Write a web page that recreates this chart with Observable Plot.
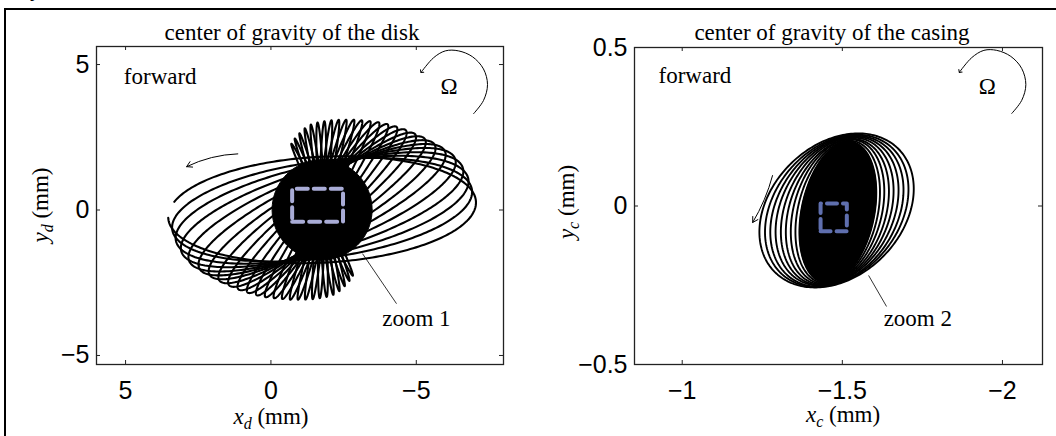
<!DOCTYPE html>
<html>
<head>
<meta charset="utf-8">
<script src="https://cdn.jsdelivr.net/npm/d3@7"></script>
<script src="https://cdn.jsdelivr.net/npm/@observablehq/plot@0.6"></script>
<style>
  html, body { margin: 0; padding: 0; background: #fff; }
  #fig { position: relative; width: 1056px; height: 436px; overflow: hidden; background: #fff; }
  #border { position: absolute; left: 4px; top: 8px; width: 1100px; height: 500px;
            border-top: 2.5px solid #000; border-left: 2.5px solid #000; }
  .panel { position: absolute; top: 0; }
  .serif { position: absolute; font-family: "Liberation Serif", "DejaVu Serif", serif; font-size: 23px;
           color: #000; white-space: nowrap; line-height: 1; }
  .serif sub { font-size: 16px; vertical-align: -5px; line-height: 0; }
</style>
</head>
<body>
<div id="fig">
  <div id="border"></div>
  <div class="serif" style="left:30px; top:-23px;">y</div>
  <div id="left" class="panel" style="left:0px;"></div>
  <div id="right" class="panel" style="left:528px;"></div>

  <div class="serif" style="left:292px; top:21px; transform:translateX(-50%);">center of gravity of the disk</div>
  <div class="serif" style="left:832px; top:21px; transform:translateX(-50%);">center of gravity of the casing</div>

  <div class="serif" style="left:271px; top:405px; transform:translateX(-50%);"><i>x<sub>d</sub></i> (mm)</div>
  <div class="serif" style="left:843px; top:403px; transform:translateX(-50%);"><i>x<sub>c</sub></i> (mm)</div>

  <div class="serif" style="left:40px; top:205px; transform:translate(-50%,-50%) rotate(-90deg);"><i>y<sub>d</sub></i> (mm)</div>
  <div class="serif" style="left:566px; top:202px; transform:translate(-50%,-50%) rotate(-90deg);"><i>y<sub>c</sub></i> (mm)</div>
</div>
<script>
// ---------------- data ----------------
// Left panel: center of gravity of the disk (mm)
const diskTicksX = [5, 0, -5];
const diskTicksY = [5, 0, -5];
const diskDomainX = [6, -8];
const diskDomainY = [-5.31, 5.62];
const diskCenter = [-1.76, 0.01];
// orbit loops: orientation (deg, on screen), semi-major and semi-minor axes (mm)
const diskLoopPhi = [3, 7.5, 12, 16.5, 21, 25.5, 30, 34.5, 39, 43.5, 48, 52.5, 57, 61.5, 66, 70.5, 75, 79.5,
                     84, 88.5, 93, 97.5, 102, 106.5, 111, 115];
const diskLoopA   = [5.22, 5.2, 5.14, 5.05, 4.9, 4.68, 4.47, 4.29, 4.12, 3.97, 3.83, 3.7, 3.58, 3.46, 3.36, 3.28,
                     3.2, 3.14, 3.09, 3.04, 3.0, 2.95, 2.86, 2.74, 2.62, 2.5];
const diskLoopB   = [1.75, 1.66, 1.55, 1.42, 1.28, 1.13, 0.98, 0.84, 0.71, 0.6, 0.5, 0.42, 0.35, 0.29, 0.24, 0.2,
                     0.17, 0.15, 0.13, 0.12, 0.12, 0.11, 0.11, 0.1, 0.1, 0.1];
const diskCoreR = 1.72;
const diskZoomBox = {x1: -0.73, x2: -2.48, y1: -0.40, y2: 0.73};
const diskArrow = {x1: 1.14, y1: 1.93, x2: 2.9, y2: 1.49};
const diskOmegaArc = {
  x: [-6.97, -7.31, -7.45, -7.31, -6.93, -6.45, -6.00, -5.59, -5.18],
  y: [3.31, 3.76, 4.31, 4.85, 5.27, 5.47, 5.47, 5.23, 4.75]
};
const diskLeader = {x1: -3.15, y1: -1.50, x2: -4.32, y2: -3.22};
const diskTexts = [
  {text: "forward", x: 5.06, y: 4.59},
  {text: "Ω", x: -5.83, y: 4.25},
  {text: "zoom 1", x: -3.83, y: -3.72}
];

// Right panel: center of gravity of the casing (mm)
const caseTicksX = [-1, -1.5, -2];
const caseTicksY = [0.5, 0, -0.5];
const caseDomainX = [-0.851, -2.125];
const caseDomainY = [-0.5, 0.5];
// loops, outer to inner: center, horizontal half-width, vertical half-height (mm)
const caseLoopCx = [-1.482, -1.4825, -1.483, -1.4835, -1.484, -1.4845, -1.485, -1.4855, -1.486];
const caseLoopCy = [-0.014, -0.015, -0.016, -0.016, -0.017, -0.018, -0.018, -0.019, -0.020];
const caseLoopHw = [0.241, 0.224, 0.208, 0.192, 0.176, 0.161, 0.146, 0.132, 0.120];
const caseLoopHh = [0.243, 0.240, 0.238, 0.235, 0.233, 0.230, 0.228, 0.225, 0.223];
const caseLoopSlant = 0.28; // top point offset / half-width
const caseZoomBox = {x1: -1.432, x2: -1.514, y1: -0.080, y2: 0.008};
const caseArrow = {x1: -1.282, y1: 0.096, x2: -1.220, y2: -0.052};
const caseOmegaArc = {
  x: [-2.029, -2.060, -2.073, -2.060, -2.026, -1.982, -1.942, -1.904, -1.867],
  y: [0.292, 0.333, 0.383, 0.434, 0.472, 0.491, 0.491, 0.468, 0.424]
};
const caseLeader = {x1: -1.582, y1: -0.219, x2: -1.638, y2: -0.317};
const caseTexts = [
  {text: "forward", x: -0.926, y: 0.41},
  {text: "Ω", x: -1.926, y: 0.378},
  {text: "zoom 2", x: -1.629, y: -0.354}
];

// ---------------- helpers ----------------
function ellipseRows(id, cx, cy, a, b, phiDeg, t0, t1, n) {
  const phi = phiDeg * Math.PI / 180;
  return d3.range(n + 1).map(i => {
    const t = t0 + (t1 - t0) * i / n;
    const dx = a * Math.cos(phi) * Math.cos(t) - b * Math.sin(phi) * Math.sin(t);
    const dy = a * Math.sin(phi) * Math.cos(t) + b * Math.cos(phi) * Math.sin(t);
    return {id, x: cx - dx, y: cy + dy}; // x axis is reversed on screen
  });
}
function slantRows(id, cx, cy, hw, hh, slant, t0, t1, n) {
  const delta = Math.acos(slant);
  return d3.range(n + 1).map(i => {
    const t = t0 + (t1 - t0) * i / n;
    return {id, x: cx - hw * Math.cos(t), y: cy + hh * Math.cos(t - delta)};
  });
}
function boxRows(b) {
  return [{x: b.x1, y: b.y1}, {x: b.x2, y: b.y1}, {x: b.x2, y: b.y2}, {x: b.x1, y: b.y2}, {x: b.x1, y: b.y1}];
}
function arcRows(arc) { return arc.x.map((x, i) => ({x, y: arc.y[i]})); }
const fmt = d => (d < 0 ? "\u2212" : "") + Math.abs(d);

function innerTicks(tx, ty, dx, dy, ppx, ppy) {
  const lx = 4 * Math.abs(dx[1] - dx[0]) / ppx, ly = 4 * Math.abs(dy[1] - dy[0]) / ppy;
  const sx = Math.sign(dx[1] - dx[0]);
  return [
    Plot.ruleX(tx, {x: d => d, y1: dy[0], y2: dy[0] + ly, stroke: "#222", strokeWidth: 1}),
    Plot.ruleX(tx, {x: d => d, y1: dy[1], y2: dy[1] - ly, stroke: "#222", strokeWidth: 1}),
    Plot.ruleY(ty, {y: d => d, x1: dx[0], x2: dx[0] + sx * lx, stroke: "#222", strokeWidth: 1}),
    Plot.ruleY(ty, {y: d => d, x1: dx[1], x2: dx[1] - sx * lx, stroke: "#222", strokeWidth: 1})
  ];
}

const baseStyle = {fontFamily: "'Liberation Sans', Arial, sans-serif", fontSize: "25px", background: "transparent", color: "#000", overflow: "visible"};
const serifFont = "'Liberation Serif', 'DejaVu Serif', serif";

// ---------------- left panel ----------------
{
  const rows = [];
  diskLoopPhi.forEach((p, i) => {
    if (i === 0) rows.push(...ellipseRows(i, diskCenter[0], diskCenter[1], diskLoopA[i] + 0.08, diskLoopB[i] + 0.07, p, -Math.PI, Math.PI - 0.3, 260));
    else rows.push(...ellipseRows(i, diskCenter[0], diskCenter[1], diskLoopA[i], diskLoopB[i], p, 0, 2 * Math.PI, 260));
  });
  const core = ellipseRows("core", diskCenter[0], diskCenter[1], diskCoreR, diskCoreR, 0, 0, 2 * Math.PI, 120);
  const W = 528, H = 436, mL = 96, mR = 25, mT = 46, mB = 72;
  const chart = Plot.plot({
    width: W, height: H, marginLeft: mL, marginRight: mR, marginTop: mT, marginBottom: mB,
    x: {domain: diskDomainX}, y: {domain: diskDomainY},
    style: baseStyle,
    marks: [
      Plot.line(core, {x: "x", y: "y", fill: "black", stroke: "black", strokeWidth: 1}),
      Plot.line(rows, {x: "x", y: "y", z: "id", stroke: "black", strokeWidth: 2.1}),
      Plot.line(boxRows(diskZoomBox), {x: "x", y: "y", stroke: "#a9acd6", strokeWidth: 4, strokeDasharray: "11,6"}),
      Plot.arrow([diskArrow], {x1: "x1", y1: "y1", x2: "x2", y2: "y2", bend: -12, stroke: "black", strokeWidth: 1, headLength: 9}),
      Plot.line(arcRows(diskOmegaArc), {x: "x", y: "y", curve: "catmull-rom", stroke: "black", strokeWidth: 1, markerEnd: "arrow"}),
      Plot.link([diskLeader], {x1: "x1", y1: "y1", x2: "x2", y2: "y2", stroke: "black", strokeWidth: 0.8}),
      Plot.text(diskTexts, {x: "x", y: "y", text: "text", textAnchor: "start", fontFamily: serifFont, fontSize: 23, fill: "black"}),
      Plot.frame({stroke: "#222", strokeWidth: 1.3}),
      ...innerTicks(diskTicksX, diskTicksY, diskDomainX, diskDomainY, W - mL - mR, H - mT - mB),
      Plot.axisX(diskTicksX, {tickSize: 0, tickPadding: 17, label: null, fontSize: 25, tickFormat: fmt}),
      Plot.axisY(diskTicksY, {tickSize: 0, tickPadding: 7, label: null, fontSize: 25, tickFormat: fmt})
    ]
  });
  document.getElementById("left").append(chart);
}

// ---------------- right panel ----------------
{
  const rows = [];
  const last = caseLoopHw.length - 1;
  caseLoopHw.forEach((hw, i) => {
    if (i === 0) rows.push(...slantRows(i, caseLoopCx[i], caseLoopCy[i], hw, caseLoopHh[i], caseLoopSlant, 3.32 - 2 * Math.PI, 3.32, 240));
    else rows.push(...slantRows(i, caseLoopCx[i], caseLoopCy[i], hw, caseLoopHh[i], caseLoopSlant, 0, 2 * Math.PI, 240));
  });
  const core = slantRows("core", caseLoopCx[last], caseLoopCy[last], caseLoopHw[last], caseLoopHh[last], caseLoopSlant, 0, 2 * Math.PI, 160);
  const W = 528, H = 436, mL = 106, mR = 14, mT = 47, mB = 72;
  const chart = Plot.plot({
    width: W, height: H, marginLeft: mL, marginRight: mR, marginTop: mT, marginBottom: mB,
    x: {domain: caseDomainX}, y: {domain: caseDomainY},
    style: baseStyle,
    marks: [
      Plot.line(core, {x: "x", y: "y", fill: "black", stroke: "black", strokeWidth: 1}),
      Plot.line(rows, {x: "x", y: "y", z: "id", stroke: "black", strokeWidth: 1.9}),
      Plot.line(boxRows(caseZoomBox), {x: "x", y: "y", stroke: "#5f6fae", strokeWidth: 4, strokeDasharray: "10,6"}),
      Plot.arrow([caseArrow], {x1: "x1", y1: "y1", x2: "x2", y2: "y2", bend: 8, stroke: "black", strokeWidth: 1, headLength: 9}),
      Plot.line(arcRows(caseOmegaArc), {x: "x", y: "y", curve: "catmull-rom", stroke: "black", strokeWidth: 1, markerEnd: "arrow"}),
      Plot.link([caseLeader], {x1: "x1", y1: "y1", x2: "x2", y2: "y2", stroke: "black", strokeWidth: 0.8}),
      Plot.text(caseTexts, {x: "x", y: "y", text: "text", textAnchor: "start", fontFamily: serifFont, fontSize: 23, fill: "black"}),
      Plot.frame({stroke: "#222", strokeWidth: 1.3}),
      ...innerTicks(caseTicksX, caseTicksY, caseDomainX, caseDomainY, W - mL - mR, H - mT - mB),
      Plot.axisX(caseTicksX, {tickSize: 0, tickPadding: 17, label: null, fontSize: 25, tickFormat: fmt}),
      Plot.axisY(caseTicksY, {tickSize: 0, tickPadding: 7, label: null, fontSize: 25, tickFormat: fmt})
    ]
  });
  document.getElementById("right").append(chart);
}
</script>
</body>
</html>
